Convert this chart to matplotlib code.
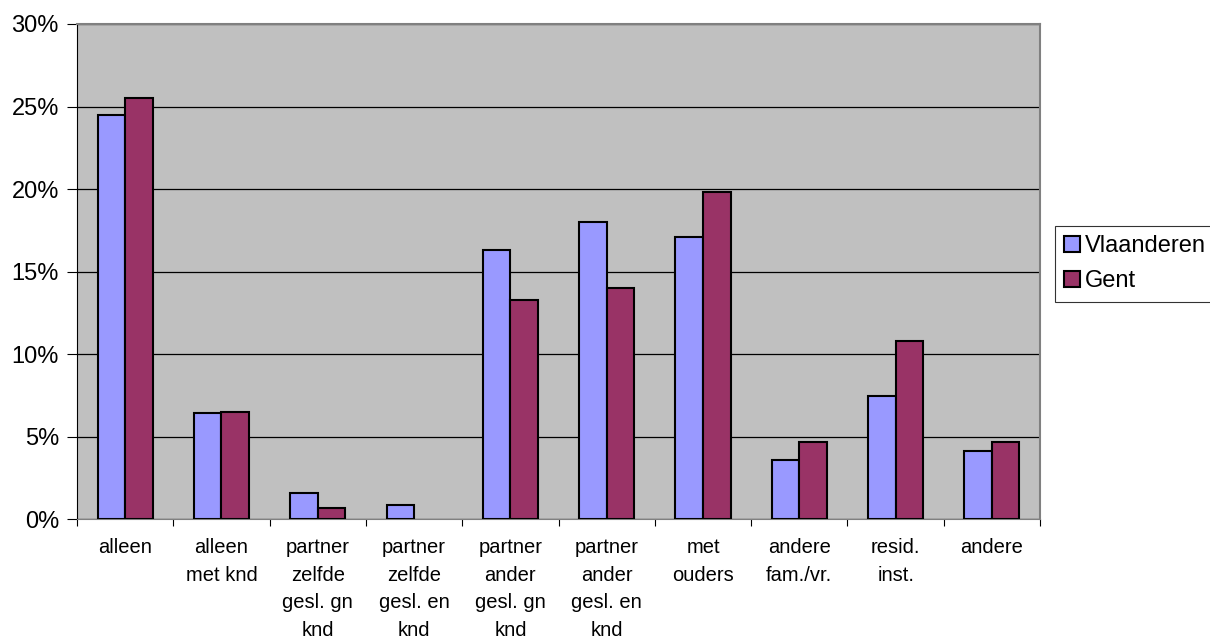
import numpy as np
import matplotlib.pyplot as plt
from matplotlib.ticker import FuncFormatter, FixedLocator

plt.rcParams['font.family'] = ['Liberation Sans', 'DejaVu Sans']

categories = ['alleen', 'alleen\nmet knd', 'partner\nzelfde\ngesl. gn\nknd',
              'partner\nzelfde\ngesl. en\nknd', 'partner\nander\ngesl. gn\nknd',
              'partner\nander\ngesl. en\nknd', 'met\nouders', 'andere\nfam./vr.',
              'resid.\ninst.', 'andere']
vlaanderen = [24.5, 6.4, 1.55, 0.87, 16.3, 18.0, 17.07, 3.58, 7.45, 4.1]
gent = [25.5, 6.5, 0.68, 0.0, 13.3, 14.0, 19.8, 4.67, 10.8, 4.67]

fig = plt.figure(figsize=(12.1, 6.4), dpi=100)
ax = fig.add_axes([0.0636, 0.189, 0.796, 0.7735])
ax.set_facecolor('#C0C0C0')

x = np.arange(len(categories))
w = 1 / 3.5
ax.bar(x - w / 2, vlaanderen, w, color='#9999FF', edgecolor='black',
       linewidth=[1.5 if v > 0 else 0 for v in vlaanderen],
       label='Vlaanderen', zorder=3)
ax.bar(x + w / 2, gent, w, color='#993366', edgecolor='black',
       linewidth=[1.5 if v > 0 else 0 for v in gent],
       label='Gent', zorder=3)

ax.set_xlim(-0.5, len(categories) - 0.5)
ax.set_ylim(0, 30)
ax.set_yticks(np.arange(0, 31, 5))
ax.yaxis.set_major_formatter(FuncFormatter(lambda v, p: f'{v:.0f}%'))
ax.yaxis.grid(True, color='black', linewidth=0.9, zorder=1)
ax.set_axisbelow(True)

ax.set_xticks(x)
ax.set_xticklabels(categories, fontsize=14.5, linespacing=1.56, va='top')
ax.xaxis.set_minor_locator(FixedLocator(np.arange(-0.5, len(categories), 1)))
ax.tick_params(axis='x', which='major', length=0, pad=14)
ax.tick_params(axis='x', which='minor', length=5, width=0.8, direction='out')
ax.tick_params(axis='y', length=7, width=0.8, labelsize=17, pad=6)

for side in ['top', 'right']:
    ax.spines[side].set_color('#808080')
    ax.spines[side].set_linewidth(1.5)
ax.spines['left'].set_color('black')
ax.spines['bottom'].set_color('#808080')

leg = fig.legend(loc='upper left', bbox_to_anchor=(1055 / 1210, 1 - 226 / 640),
                 fontsize=17, frameon=True, fancybox=False, edgecolor='black',
                 handlelength=0.65, handleheight=0.65, handletextpad=0.2,
                 borderpad=0.4, labelspacing=0.55, borderaxespad=0)
leg.get_frame().set_linewidth(0.8)
for h in leg.legend_handles:
    h.set_linewidth(1.5)

plt.savefig('out.png', dpi=100)
